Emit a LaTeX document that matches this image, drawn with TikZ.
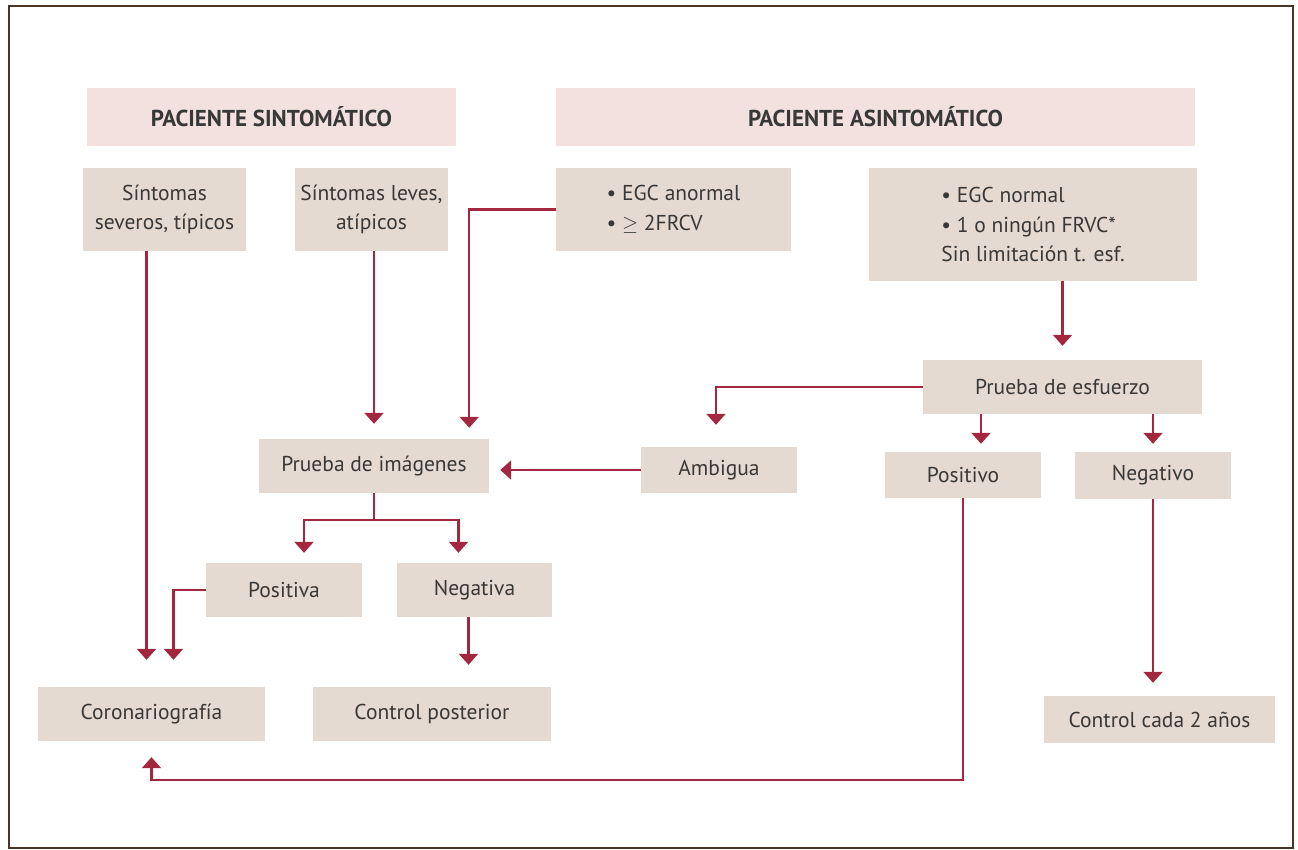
\documentclass[tikz,border=0pt]{standalone}
\usepackage{fontspec}
\setmainfont{PT Sans}
\usepackage{tikz}
\usetikzlibrary{arrows.meta,calc}
\definecolor{framebrown}{HTML}{4A3426}
\definecolor{headpink}{HTML}{F3E1E0}
\definecolor{boxbeige}{HTML}{E5DAD2}
\definecolor{arrowred}{HTML}{A3283F}
\definecolor{textgrey}{HTML}{383838}
\tikzset{
  headbox/.style 2 args={
    rectangle, fill=headpink, minimum width=#1, minimum height=#2,
    inner sep=0pt, text=textgrey, font=\fontsize{23}{27}\selectfont\bfseries
  },
  stepbox/.style 2 args={
    rectangle, fill=boxbeige, minimum width=#1, minimum height=#2,
    inner sep=0pt, align=center, text=textgrey,
    font=\fontsize{21.5}{29.5}\selectfont
  },
  flowarrow/.style={
    -{Triangle[width=19pt,length=11pt]}, line width=2.2pt,
    draw=arrowred, shorten >=#1
  },
  flowarrow/.default=0pt,
}

\begin{document}
\begin{tikzpicture}[x=1pt,y=-1pt]
  \fill[white] (0,0) rectangle (1298,849);
  \useasboundingbox (0,0) rectangle (1298,849);
  \draw[framebrown, line width=2pt] (9,6) rectangle (1293,848);

  % headers
  \node[headbox={369pt}{58pt}] (sint) at (271.5,117) {PACIENTE SINTOMÁTICO};
  \node[headbox={639pt}{58pt}] (asint) at (875.5,117) {PACIENTE ASINTOMÁTICO};

  % first row
  \node[stepbox={163pt}{83pt}] (sev) at (164.5,209.5) {Síntomas\\severos, típicos};
  \node[stepbox={153pt}{83pt}] (lev) at (371.5,209.5) {Síntomas leves,\\atípicos};
  \node[stepbox={235pt}{83pt}, align=left] (anorm) at (673.5,209.5)
    {• EGC anormal\\• $\geq$ 2FRCV};
  \node[stepbox={328pt}{113pt}, align=left] (norm) at (1033,224.5)
    {• EGC normal\\• 1 o ningún FRVC*\\Sin limitación t. esf.};

  % middle
  \node[stepbox={279pt}{54pt}] (esf) at (1062.5,387) {Prueba de esfuerzo};
  \node[stepbox={230pt}{54pt}] (img) at (374,466) {Prueba de imágenes};
  \node[stepbox={156pt}{46pt}] (amb) at (719,470) {Ambigua};
  \node[stepbox={156pt}{46pt}] (posv) at (963,475) {Positivo};
  \node[stepbox={156pt}{47pt}] (negv) at (1153,475.5) {Negativo};
  \node[stepbox={156pt}{54pt}] (posa) at (284,590) {Positiva};
  \node[stepbox={155pt}{54pt}] (nega) at (474.5,590) {Negativa};

  % outcomes
  \node[stepbox={227pt}{54pt}] (coro) at (151.5,714) {Coronariografía};
  \node[stepbox={238pt}{54pt}] (cpost) at (432,714) {Control posterior};
  \node[stepbox={231pt}{47pt}] (c2) at (1159.5,719.5) {Control cada 2 años};

  % connectors
  \coordinate (sevdrop) at ($(coro.north)+(-5,0)$);
  \coordinate (negdrop) at ($(nega.south)+(-6,0)$);
  \coordinate (posvtop) at ($(posv.north)+(18,0)$);
  \draw[flowarrow=27pt] (sev.south -| sevdrop) -- (sevdrop);
  \draw[flowarrow=27pt] (posa.west) -| ($(coro.north)+(22,0)$);
  \draw[flowarrow=15pt] (lev.south -| img.north) -- (img.north);
  \draw[flowarrow=11pt] (anorm.west) -| ($(img.north east)+(-20,0)$);
  \draw[flowarrow=10pt] (img.south) -- ++(0,27) -| ($(posa.north)+(20,0)$);
  \draw[flowarrow=10pt] (img.south) -- ++(0,27) -| ($(nega.north)+(-16,0)$);
  \draw[flowarrow=22pt] (negdrop) -- (negdrop |- cpost.north);
  \draw[flowarrow=11pt] (amb.west) -- (amb.west -| img.east);
  \draw[flowarrow=14pt] (norm.south -| esf.north) -- (esf.north);
  \draw[flowarrow=22pt] (esf.west) -| ($(amb.north)+(-3,0)$);
  \draw[flowarrow=8pt] (esf.south -| posvtop) -- (posvtop);
  \draw[flowarrow=8pt] (esf.south -| negv.north) -- (negv.north);
  \draw[flowarrow=13pt] (negv.south) -- (negv.south |- c2.north);
  \draw[flowarrow=16pt] (posv.south) -- ++(0,282) -| (coro.south);
\end{tikzpicture}
\end{document}
